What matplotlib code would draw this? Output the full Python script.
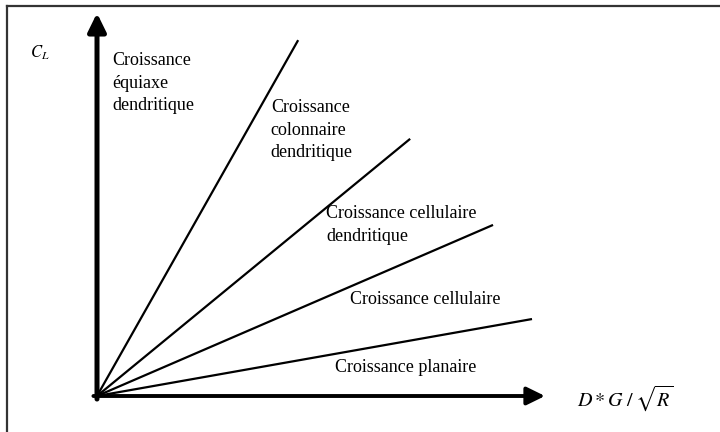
import matplotlib
matplotlib.use("Agg")
import matplotlib.pyplot as plt
from matplotlib.lines import Line2D

# Regime boundary lines: end points (fraction of axis length) of rays from origin
ray_end_x = [0.449, 0.699, 0.884, 0.971]
ray_end_y = [0.934, 0.675, 0.449, 0.202]

# Region labels
region_labels = [
    "Croissance\néquiaxe\ndendritique",
    "Croissance\ncolonnaire\ndendritique",
    "Croissance cellulaire\ndendritique",
    "Croissance cellulaire",
    "Croissance planaire",
]
label_x = [0.0335, 0.388, 0.511, 0.565, 0.531]
label_y = [0.8215, 0.698, 0.449, 0.252, 0.0735]

y_axis_label = r"$C_L$"
x_axis_label = r"$D*G\;/\;\sqrt{R}$"

plt.rcParams["mathtext.fontset"] = "stix"
W, H = 720, 432
fig = plt.figure(figsize=(7.2, 4.32), dpi=100)
fig.patch.set_facecolor("white")

# outer frame (left and top edges visible)
fl, ft = 7 / W, 1 - 6 / H
fig.add_artist(Line2D([fl, fl], [0, ft], transform=fig.transFigure, color="#333333", lw=1.6))
fig.add_artist(Line2D([fl, 1.0], [ft, ft], transform=fig.transFigure, color="#333333", lw=1.6))

ox, oy = 97, 396
ax = fig.add_axes([ox / W, (H - oy) / H, 448 / W, 381 / H])
ax.set_xlim(0, 1)
ax.set_ylim(0, 1)
ax.axis("off")

for ex, ey in zip(ray_end_x, ray_end_y):
    ax.plot([0, ex], [0, ey], color="black", lw=1.6, solid_capstyle="butt", clip_on=False)

def axis_arrow(xy, xytext, lw):
    ax.annotate("", xy=xy, xytext=xytext, xycoords="axes fraction",
                textcoords="axes fraction", annotation_clip=False,
                arrowprops=dict(arrowstyle="-|>,head_length=0.55,head_width=0.27", lw=lw,
                                color="black", shrinkA=0, shrinkB=0, mutation_scale=20))

axis_arrow((1, 0), (-0.008, 0), 2.8)
axis_arrow((0, 1.005), (0, -0.008), 3.6)

for txt, tx, ty in zip(region_labels, label_x, label_y):
    ax.text(tx, ty, txt, transform=ax.transAxes, ha="left", va="center",
            family="Liberation Serif", fontsize=13, linespacing=1.4, clip_on=False)

ax.text(-0.1496, 0.90, y_axis_label, transform=ax.transAxes, ha="left", va="center",
        fontsize=12, clip_on=False)
ax.text(1.071, -0.005, x_axis_label, transform=ax.transAxes, ha="left", va="center",
        fontsize=14.5, clip_on=False)

fig.savefig("out.png", dpi=100, facecolor="white")
